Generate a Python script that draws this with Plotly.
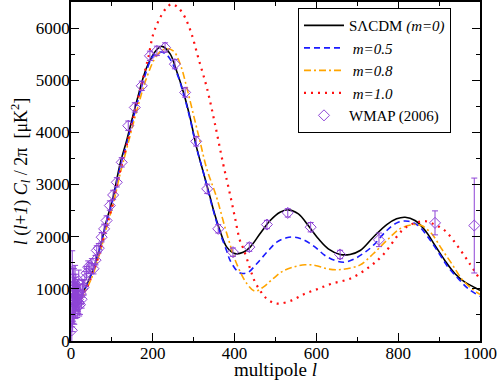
import plotly.graph_objects as go

# S-Lambda-CDM (m=0)
l_m0 = [24, 50, 71, 87, 103, 120, 136, 161, 185, 210, 222, 242, 258, 275, 291, 307, 323, 340, 348, 364, 381,
        401, 421, 438, 462, 487, 511, 531, 556, 580, 605, 629, 658, 682, 707, 739, 772, 796, 817, 841, 866,
        890, 914, 939, 963, 988, 1000]
cl_m0 = [840, 1290, 1800, 2310, 2760, 3395, 3841, 4607, 5244, 5590, 5650, 5510, 5180, 4766, 4287, 3713, 3250,
         2760, 2520, 2120, 1800, 1675, 1700, 1800, 2055, 2310, 2469, 2515, 2438, 2214, 1960, 1768, 1660, 1660,
         1736, 1990, 2233, 2343, 2373, 2310, 2119, 1832, 1545, 1290, 1129, 1022, 970]

# m=0.5
l_m05 = [24, 50, 71, 87, 103, 120, 136, 161, 177, 201, 218, 235, 258, 275, 291, 307, 323, 348, 364, 381, 389,
         409, 420, 434, 454, 479, 503, 527, 548, 572, 597, 621, 650, 670, 694, 719, 739, 772, 800, 825, 849,
         874, 898, 922, 947, 971, 1000]
cl_m05 = [830, 1270, 1780, 2280, 2720, 3330, 3780, 4530, 4990, 5468, 5540, 5480, 5150, 4740, 4260, 3700, 3250,
          2500, 2080, 1720, 1545, 1321, 1295, 1321, 1481, 1703, 1895, 1979, 1990, 1927, 1800, 1640, 1531, 1512,
          1577, 1703, 1832, 2119, 2278, 2297, 2214, 1979, 1703, 1416, 1194, 1003, 855]

# m=0.8
l_m08 = [24, 50, 71, 87, 103, 120, 136, 161, 185, 210, 230, 250, 267, 283, 299, 315, 332, 356, 381, 405, 430,
         450, 470, 494, 518, 543, 572, 597, 625, 650, 674, 707, 739, 772, 804, 837, 857, 882, 906, 931, 955,
         980, 1000]
cl_m08 = [780, 1200, 1700, 2180, 2620, 3200, 3680, 4420, 5050, 5480, 5600, 5563, 5309, 4861, 4352, 3841, 3300,
          2756, 2055, 1481, 1100, 957, 1033, 1194, 1340, 1416, 1462, 1449, 1386, 1366, 1386, 1460, 1673, 1927,
          2151, 2233, 2214, 2055, 1768, 1481, 1194, 1003, 893]

# m=1.0
l_m10 = [24, 50, 71, 87, 103, 120, 136, 161, 175, 189, 201, 218, 234, 246, 262, 279, 295, 311, 332, 352, 372,
         385, 400, 413, 421, 434, 442, 450, 462, 474, 491, 507, 540, 572, 605, 637, 682, 727, 764, 811, 840,
         866, 890, 914, 947, 975, 1000]
cl_m10 = [800, 1230, 1720, 2200, 2650, 3250, 3750, 4560, 5000, 5435, 5883, 6201, 6392, 6460, 6392, 6201, 5883,
          5435, 4861, 4161, 3395, 2947, 2400, 1927, 1780, 1480, 1290, 1130, 970, 842, 746, 715, 779, 907, 1003,
          1098, 1194, 1405, 1660, 2130, 2260, 2297, 2230, 2118, 1800, 1480, 1180]

# WMAP (2006) band powers
l_wmap = [2, 3, 4, 5, 6, 7, 8, 9, 10, 11, 12, 13, 14, 15, 16, 17, 18, 19, 20, 22, 24, 26, 28, 31, 34, 38, 42,
          46, 51, 55, 60, 63, 68, 75, 81, 87, 95, 103, 112, 124, 140, 156, 173, 193, 210, 230, 254, 279, 306,
          333, 360, 396, 436, 479, 530, 586, 658, 753, 890, 986]
cl_wmap = [205, 1000, 780, 900, 810, 960, 720, 850, 1100, 750, 980, 870, 840, 700, 940, 800, 750, 1150, 680,
           700, 900, 800, 1000, 1030, 1190, 1300, 1416, 1400, 1480, 1386, 1550, 1736, 1780, 1990, 2150, 2310,
           2597, 2800, 3043, 3426, 4128, 4478, 4893, 5468, 5563, 5627, 5309, 4766, 3828, 2917, 2151, 1703, 1800,
           2233, 2457, 2182, 1659, 1940, 2265, 2214]
err_wmap = [500, 730, 600, 520, 470, 430, 400, 370, 350, 320, 300, 280, 260, 250, 240, 230, 220, 210, 200, 190,
            180, 170, 160, 150, 140, 130, 120, 110, 100, 100, 90, 90, 90, 90, 90, 90, 90, 90, 90, 90, 90, 90, 90,
            90, 90, 90, 90, 90, 90, 90, 80, 80, 80, 80, 80, 90, 80, 130, 230, 910]

FONT = "Liberation Serif"
PURPLE = "#8e44d6"

fig = go.Figure()

fig.add_trace(go.Scatter(x=l_m0, y=cl_m0, mode="lines", name="S\u039bCDM <i>(m=0)</i>",
                         line=dict(color="black", width=1.6, shape="spline")))
fig.add_trace(go.Scatter(x=l_m05, y=cl_m05, mode="lines", name="&nbsp;<i>m=0.5</i>",
                         line=dict(color="#1a1aff", width=1.6, dash="6px,4px", shape="spline")))
fig.add_trace(go.Scatter(x=l_m08, y=cl_m08, mode="lines", name="&nbsp;<i>m=0.8</i>",
                         line=dict(color="#ffa500", width=1.6, dash="7px,3px,2px,3px", shape="spline")))
fig.add_trace(go.Scatter(x=l_m10, y=cl_m10, mode="lines", name="&nbsp;<i>m=1.0</i>",
                         line=dict(color="#ff1010", width=2.2, dash="2px,5px", shape="spline")))
fig.add_trace(go.Scatter(x=l_wmap, y=cl_wmap, mode="markers", name="WMAP (2006)",
                         marker=dict(symbol="diamond-open", size=8.5, color=PURPLE, line=dict(width=1)),
                         error_y=dict(type="data", array=err_wmap, color=PURPLE, thickness=1, width=3)))

axis_common = dict(
    showline=True, linecolor="black", linewidth=1.5, mirror="ticks",
    ticks="inside", ticklen=8, tickcolor="black", tickwidth=1,
    showgrid=False, zeroline=False, automargin=False, ticklabelstandoff=-4,
    tickfont=dict(family=FONT, size=17, color="black"),
)

fig.update_xaxes(range=[0, 1000], dtick=200,
                 minor=dict(ticks="inside", ticklen=4, dtick=100, tickcolor="black"),
                 title=dict(text="multipole <i>l</i>", font=dict(family=FONT, size=19, color="black"),
                            standoff=4),
                 **axis_common)
fig.update_yaxes(range=[0, 6500], dtick=1000,
                 minor=dict(ticks="inside", ticklen=4, dtick=500, tickcolor="black"),
                 title=dict(text="<i>l</i> (<i>l</i>+<i>1</i>) <i>C<sub>l</sub></i> / 2\u03c0  [\u03bcK<sup>2</sup>]",
                            font=dict(family=FONT, size=18, color="black"), standoff=4),
                 **axis_common)

fig.update_layout(
    width=498, height=380,
    margin=dict(l=71, r=18, t=2, b=39),
    paper_bgcolor="white", plot_bgcolor="white",
    font=dict(family=FONT, size=17, color="black"),
    legend=dict(x=0.555, y=0.982, xanchor="left", yanchor="top",
                bgcolor="white", bordercolor="black", borderwidth=1,
                font=dict(family=FONT, size=15, color="black"),
                itemwidth=40, tracegroupgap=0),
    showlegend=True,
)

# drop the default page margin so the figure sits at the window's corner
fig.write_html("out.html", config={"displayModeBar": False},
               post_script="document.body.style.margin='0';")
